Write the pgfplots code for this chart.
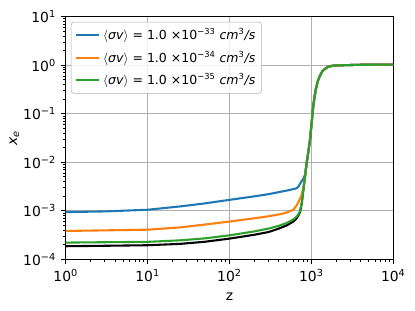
\documentclass[border=0pt]{standalone}
\usepackage{fontspec}
\setmainfont{DejaVu Sans}
\usepackage{pgfplots}
\usepackage{pgfplotstable}
\pgfplotsset{compat=1.18}
\definecolor{c0}{HTML}{1F77B4}
\definecolor{c1}{HTML}{FF7F0E}
\definecolor{c2}{HTML}{2CA02C}
\definecolor{gridc}{HTML}{B0B0B0}

\pgfplotstableread{
z x
1 1.86e-4
3 1.9e-4
10 1.95e-4
25 2.08e-4
50 2.3e-4
100 2.67e-4
200 3.2e-4
300 3.65e-4
400 4.3e-4
500 5.0e-4
600 6.0e-4
660 7.0e-4
700 8.2e-4
726 9.4e-4
762 1.42e-3
797 2.69e-3
835 5.0e-3
877 1.0e-2
917 1.64e-2
943 2.3e-2
961 2.9e-2
1009 6.8e-2
1055 0.149
1100 0.24
1137 0.33
1200 0.48
1274 0.61
1360 0.75
1466 0.84
1600 0.93
1850 0.98
2500 1.0
4000 1.02
10000 1.03
}\tblack

\pgfplotstableread{
z x
1 9.4e-4
3 9.7e-4
10 1.05e-3
25 1.23e-3
50 1.42e-3
100 1.68e-3
200 1.98e-3
300 2.2e-3
414 2.45e-3
548 2.69e-3
662 2.92e-3
700 3.2e-3
726 3.6e-3
762 4.1e-3
797 4.6e-3
835 5.5e-3
877 1.0e-2
917 1.64e-2
943 2.3e-2
961 2.9e-2
1009 6.8e-2
1055 0.149
1100 0.24
1137 0.33
1200 0.48
1274 0.61
1360 0.75
1466 0.84
1600 0.93
1850 0.98
2500 1.0
4000 1.02
10000 1.03
}\tblue

\pgfplotstableread{
z x
1 3.84e-4
3 3.95e-4
10 4.08e-4
25 4.55e-4
50 5.2e-4
100 6.0e-4
200 7.0e-4
300 7.7e-4
414 8.5e-4
499 9.2e-4
601 1.05e-3
662 1.3e-3
700 1.55e-3
726 1.78e-3
762 2.15e-3
797 3.0e-3
835 5.0e-3
877 1.0e-2
917 1.64e-2
943 2.3e-2
961 2.9e-2
1009 6.8e-2
1055 0.149
1100 0.24
1137 0.33
1200 0.48
1274 0.61
1360 0.75
1466 0.84
1600 0.93
1850 0.98
2500 1.0
4000 1.02
10000 1.03
}\torange

\pgfplotstableread{
z x
1 2.21e-4
3 2.25e-4
10 2.29e-4
25 2.46e-4
50 2.7e-4
100 3.12e-4
200 3.75e-4
300 4.3e-4
400 4.9e-4
500 5.6e-4
600 6.6e-4
660 7.6e-4
700 8.7e-4
726 9.8e-4
762 1.45e-3
797 2.69e-3
835 5.0e-3
877 1.0e-2
917 1.64e-2
943 2.3e-2
961 2.9e-2
1009 6.8e-2
1055 0.149
1100 0.24
1137 0.33
1200 0.48
1274 0.61
1360 0.75
1466 0.84
1600 0.93
1850 0.98
2500 1.0
4000 1.02
10000 1.03
}\tgreen

\begin{document}
\begin{tikzpicture}
\begin{axis}[
  scale only axis,
  width=235.9pt, height=174.7pt,
  xmode=log, ymode=log,
  xmin=1, xmax=1e4, ymin=1e-4, ymax=10,
  xtick={1,10,100,1000,10000},
  xticklabels={10\textsuperscript{0},10\textsuperscript{1},10\textsuperscript{2},10\textsuperscript{3},10\textsuperscript{4}},
  ytick={1e-4,1e-3,1e-2,1e-1,1,10},
  yticklabels={10\textsuperscript{−4},10\textsuperscript{−3},10\textsuperscript{−2},10\textsuperscript{−1},10\textsuperscript{0},10\textsuperscript{1}},
  tick label style={font=\fontsize{10}{12}\selectfont},
  label style={font=\fontsize{10}{12}\selectfont},
  xlabel={z},
  ylabel={\textit{x}\textsubscript{\textit{e}}},
  xlabel style={yshift=-1pt},
  ylabel style={yshift=-4pt},
  tick pos=left,
  tick align=outside,
  major tick length=3.5pt,
  minor tick length=2pt,
  every tick/.style={black, line width=0.8pt},
  minor tick style={line width=0.6pt},
  axis line style={line width=0.8pt},
  grid=major,
  major grid style={gridc, line width=0.8pt},
  legend style={at={(0.016,0.979)}, anchor=north west, draw=gridc, rounded corners=2pt,
    fill=white, fill opacity=0.8, text opacity=1,
    font=\fontsize{9}{11}\selectfont, row sep=2.5pt, inner sep=2.5pt},
  legend cell align=left,
  legend image code/.code={\draw[#1, line width=1.5pt] (0pt,0pt) -- (17pt,0pt);},
]
\addplot[black, line width=1.5pt, forget plot] table[x=z,y=x] {\tblack};
\addplot[c0, line width=1.5pt] table[x=z,y=x] {\tblue};
\addlegendentry{$\langle$\textit{σv}$\rangle$ = 1.0 ×10\textsuperscript{−33} \textit{cm}\textsuperscript{3}\textit{/s}}
\addplot[c1, line width=1.5pt] table[x=z,y=x] {\torange};
\addlegendentry{$\langle$\textit{σv}$\rangle$ = 1.0 ×10\textsuperscript{−34} \textit{cm}\textsuperscript{3}\textit{/s}}
\addplot[c2, line width=1.5pt] table[x=z,y=x] {\tgreen};
\addlegendentry{$\langle$\textit{σv}$\rangle$ = 1.0 ×10\textsuperscript{−35} \textit{cm}\textsuperscript{3}\textit{/s}}
\end{axis}
\pgfresetboundingbox
\useasboundingbox ([xshift=-47.3pt,yshift=-37.2pt]current axis.south west) rectangle ([xshift=15.6pt,yshift=12pt]current axis.north east);
\end{tikzpicture}
\end{document}
